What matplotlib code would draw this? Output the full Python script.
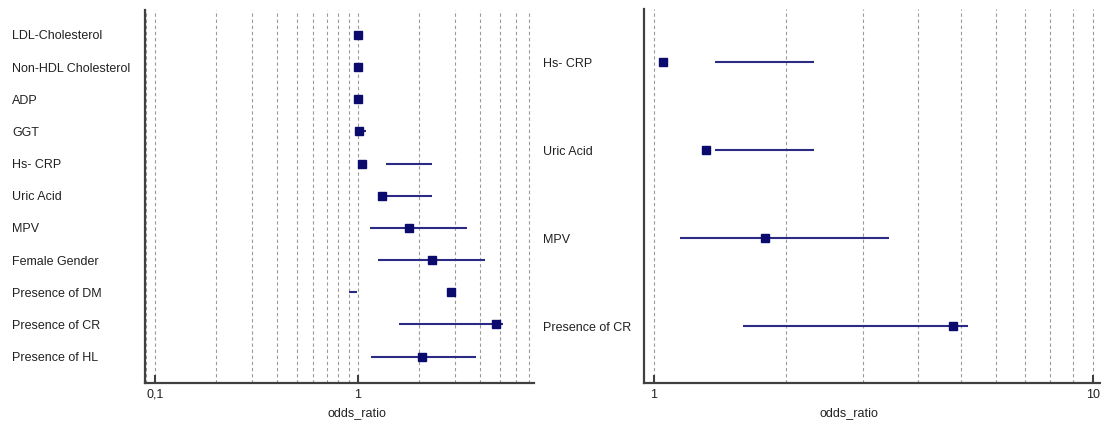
import matplotlib
matplotlib.use("Agg")
import matplotlib.pyplot as plt
from matplotlib.ticker import LogLocator, NullFormatter, FixedLocator, FixedFormatter

plt.rcParams['font.family'] = ['Liberation Sans', 'DejaVu Sans']

# ---- data (left panel: all variables) ----
labels = ["LDL-Cholesterol", "Non-HDL Cholesterol", "ADP", "GGT", "Hs- CRP",
          "Uric Acid", "MPV", "Female Gender", "Presence of DM",
          "Presence of CR", "Presence of HL"]
odds_ratio = [1.00, 1.00, 1.00, 1.015, 1.05, 1.31, 1.79, 2.31, 2.87, 4.80, 2.08]
ci_low = [0.995, 0.995, 0.995, 1.00, 1.37, 1.37, 1.147, 1.25, 0.903, 1.59, 1.16]
ci_high = [1.005, 1.005, 1.005, 1.095, 2.33, 2.33, 3.44, 4.23, 0.985, 5.20, 3.81]

# ---- data (right panel: selected variables) ----
right_labels = ["Hs- CRP", "Uric Acid", "MPV", "Presence of CR"]
right_odds = [1.05, 1.315, 1.79, 4.80]
right_low = [1.376, 1.376, 1.147, 1.596]
right_high = [2.32, 2.32, 3.44, 5.20]

left_ticks = [0.1, 1]
left_ticklabels = ["0,1", "1"]
right_ticks = [1, 10]
right_ticklabels = ["1", "10"]

MARKER_C = "#0b0b6e"
LINE_C = "#2b2b85"
GRID_C = "#9a9a9a"
SPINE_C = "#404040"

W, H = 1101, 423
fig = plt.figure(figsize=(W / 100, H / 100), dpi=100)
fig.patch.set_facecolor("white")

def px_axes(x0, x1, ytop, ybot):
    return fig.add_axes([x0 / W, (H - ybot) / H, (x1 - x0) / W, (ybot - ytop) / H])

axL = px_axes(145.3, 534, 10, 383)
axR = px_axes(643.7, 1101, 9.5, 383)

def draw(ax, labs, pts, lo, hi, xlim, ylim, ticks, ticklabels, label_pad, xlabel_x):
    ys = list(range(len(labs)))
    ax.hlines(ys, lo, hi, color=LINE_C, lw=1.5, zorder=3)
    ax.plot(pts, ys, linestyle="none", marker="s", markersize=5.6,
            color=MARKER_C, zorder=4)
    ax.set_xscale("log")
    ax.set_xlim(*xlim)
    ax.set_ylim(*ylim)
    ax.xaxis.set_major_locator(FixedLocator(ticks))
    ax.xaxis.set_major_formatter(FixedFormatter(ticklabels))
    ax.xaxis.set_minor_locator(LogLocator(base=10, subs=range(2, 10), numticks=20))
    ax.xaxis.set_minor_formatter(NullFormatter())
    ax.grid(True, which="both", axis="x", color=GRID_C, lw=0.8,
            linestyle=(0, (3, 2.5)), zorder=0)
    ax.set_axisbelow(True)
    ax.tick_params(axis="x", which="major", direction="in", length=6, width=1.5,
                   color=SPINE_C, labelsize=9, labelcolor="#222222", pad=4)
    ax.tick_params(axis="x", which="minor", length=0)
    ax.set_yticks(ys)
    ax.set_yticklabels(labs)
    ax.tick_params(axis="y", length=0, labelsize=9, labelcolor="#222222", pad=label_pad)
    for t in ax.get_yticklabels():
        t.set_horizontalalignment("left")
    for s in ("top", "right"):
        ax.spines[s].set_visible(False)
    for s in ("left", "bottom"):
        ax.spines[s].set_color(SPINE_C)
        ax.spines[s].set_linewidth(1.6)
    ax.set_xlabel("odds_ratio", fontsize=9, color="#222222")
    ax.xaxis.label.set_va("center")
    ax.xaxis.set_label_coords(xlabel_x, -(413 - 383) / 373)

draw(axL, labels, odds_ratio, ci_low, ci_high,
     (0.0893, 7.38), (10.82, -0.777), left_ticks, left_ticklabels,
     (145.3 - 12) * 0.72, (357 - 145.3) / (534 - 145.3))
draw(axR, right_labels, right_odds, right_low, right_high,
     (0.949, 10.43), (3.648, -0.6), right_ticks, right_ticklabels,
     (643.7 - 543) * 0.72, (849 - 643.7) / (1101 - 643.7))

fig.savefig("out.png", dpi=100, facecolor="white")
